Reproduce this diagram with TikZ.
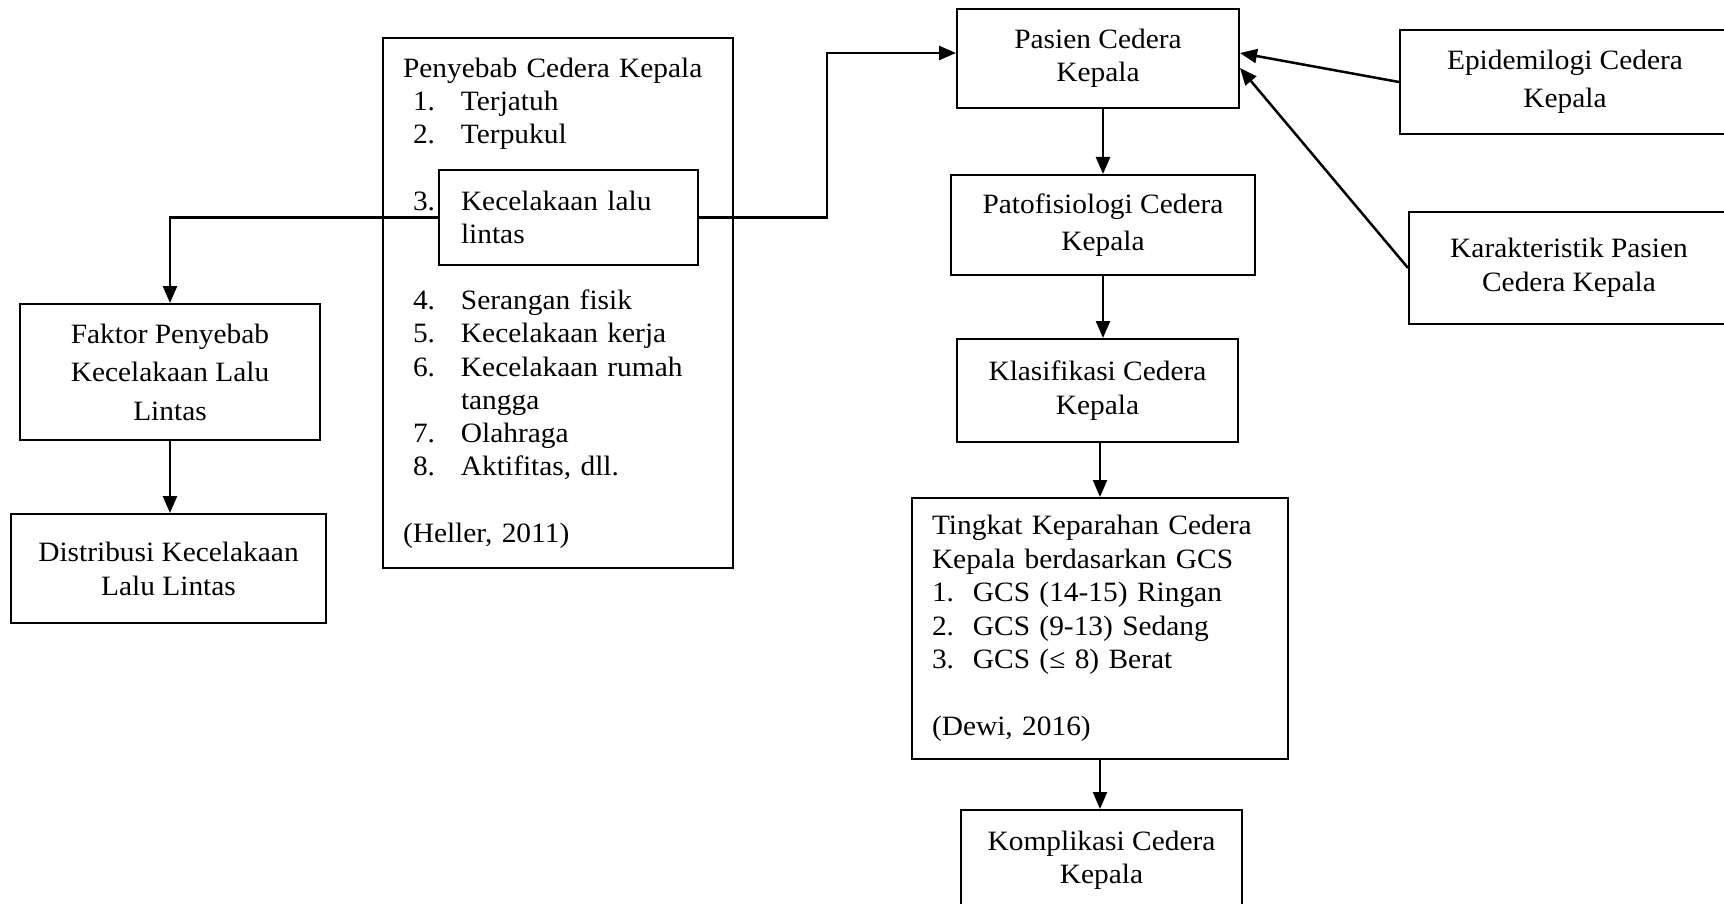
\documentclass[tikz,border=0pt]{standalone}
\usepackage{fontspec}
\setmainfont{Liberation Serif}[FakeStretch=1.05]
\usepackage{tikz}
\usetikzlibrary{arrows.meta}

\newcommand{\lsp}[1]{\fontsize{14pt}{#1pt}\selectfont}
\newcommand{\itm}[1]{\makebox[29pt][l]{\hspace*{5pt}#1}}
\newcommand{\gcs}[1]{\makebox[20.5pt][l]{#1}}

\begin{document}
\begin{tikzpicture}[x=0.5pt, y=-0.5pt,
    box/.style={draw, line width=1pt, align=center, inner sep=0pt},
    arr/.style={-{Triangle[length=8.5pt,width=7pt]}, line width=1.25pt}]
      \useasboundingbox (0,0) rectangle (1724,904);
      \clip (0,0) rectangle (1724,904);

      \node[box, minimum width=150pt, minimum height=68pt, font=\lsp{19.25}] (faktor) at (170,372) {Faktor Penyebab\\Kecelakaan Lalu\\Lintas};
      \node[box, minimum width=157.5pt, minimum height=54.5pt, font=\lsp{17}] (distribusi) at (168.5,568.5) {Distribusi Kecelakaan\\Lalu Lintas};

      \node[box, align=left, inner xsep=10pt, text width=155pt, minimum height=265pt, font=\lsp{16.6}] (penyebab) at (558,303) {Penyebab Cedera Kepala\\
        \itm{1.}Terjatuh\\
        \itm{2.}Terpukul\\[16.6pt]
        \itm{3.}\\[33.2pt]
        \itm{4.}Serangan fisik\\
        \itm{5.}Kecelakaan kerja\\
        \itm{6.}Kecelakaan rumah\\
        \itm{}tangga\\
        \itm{7.}Olahraga\\
        \itm{8.}Aktifitas, dll.\\[16.6pt]
        (Heller, 2011)};
      \node[box, align=left, inner xsep=11pt, text width=107.5pt, minimum height=47.5pt, font=\lsp{16.6}] (kecel) at (568.5,217.5) {Kecelakaan lalu\\lintas};

      \node[box, minimum width=141pt, minimum height=49.5pt, font=\lsp{16.5}] (pasien) at (1098,58.5) {Pasien Cedera\\Kepala};
      \node[box, minimum width=152pt, minimum height=50pt, font=\lsp{18.5}] (pato) at (1103,225) {Patofisiologi Cedera\\Kepala};
      \node[box, minimum width=140.5pt, minimum height=51.5pt, font=\lsp{17}] (klas) at (1097.5,390.5) {Klasifikasi Cedera\\Kepala};
      \node[box, align=left, inner xsep=10pt, text width=168pt, minimum height=130.5pt, font=\lsp{16.75}] (tingkat) at (1100,628.5) {Tingkat Keparahan Cedera\\
        Kepala berdasarkan GCS\\
        \gcs{1.}GCS (14-15) Ringan\\
        \gcs{2.}GCS (9-13) Sedang\\
        \gcs{3.}GCS (≤ 8) Berat\\[16.75pt]
        (Dewi, 2016)};
      \node[box, minimum width=140.5pt, minimum height=50pt, font=\lsp{16.5}] (kompl) at (1101.5,860) {Komplikasi Cedera\\Kepala};

      \node[box, minimum width=165pt, minimum height=52pt, font=\lsp{19}] (epi) at (1565,82) {Epidemilogi Cedera\\Kepala};
      \node[box, minimum width=160pt, minimum height=56pt, font=\lsp{17}] (kar) at (1569,268) {Karakteristik Pasien\\Cedera Kepala};

      \coordinate (elbow) at (827,217.5);

      \draw[arr] (kecel.west) -| (faktor.north);
      \draw[arr] (faktor.south) -- (faktor.south |- distribusi.north);
      \draw[arr] (kecel.east) -- (elbow) |- ([yshift=2.75pt]pasien.west);
      \draw[arr] (pato.north |- pasien.south) -- (pato.north);
      \draw[arr] (pato.south) -- (pato.south |- klas.north);
      \draw[arr] (tingkat.north |- klas.south) -- (tingkat.north);
      \draw[arr] (tingkat.south) -- (tingkat.south |- kompl.north);
      \draw[arr] (epi.west) -- ([yshift=2.75pt]pasien.east);
      \draw[arr] (kar.west) -- ([yshift=-4.75pt]pasien.east);
    \end{tikzpicture}
\end{document}
